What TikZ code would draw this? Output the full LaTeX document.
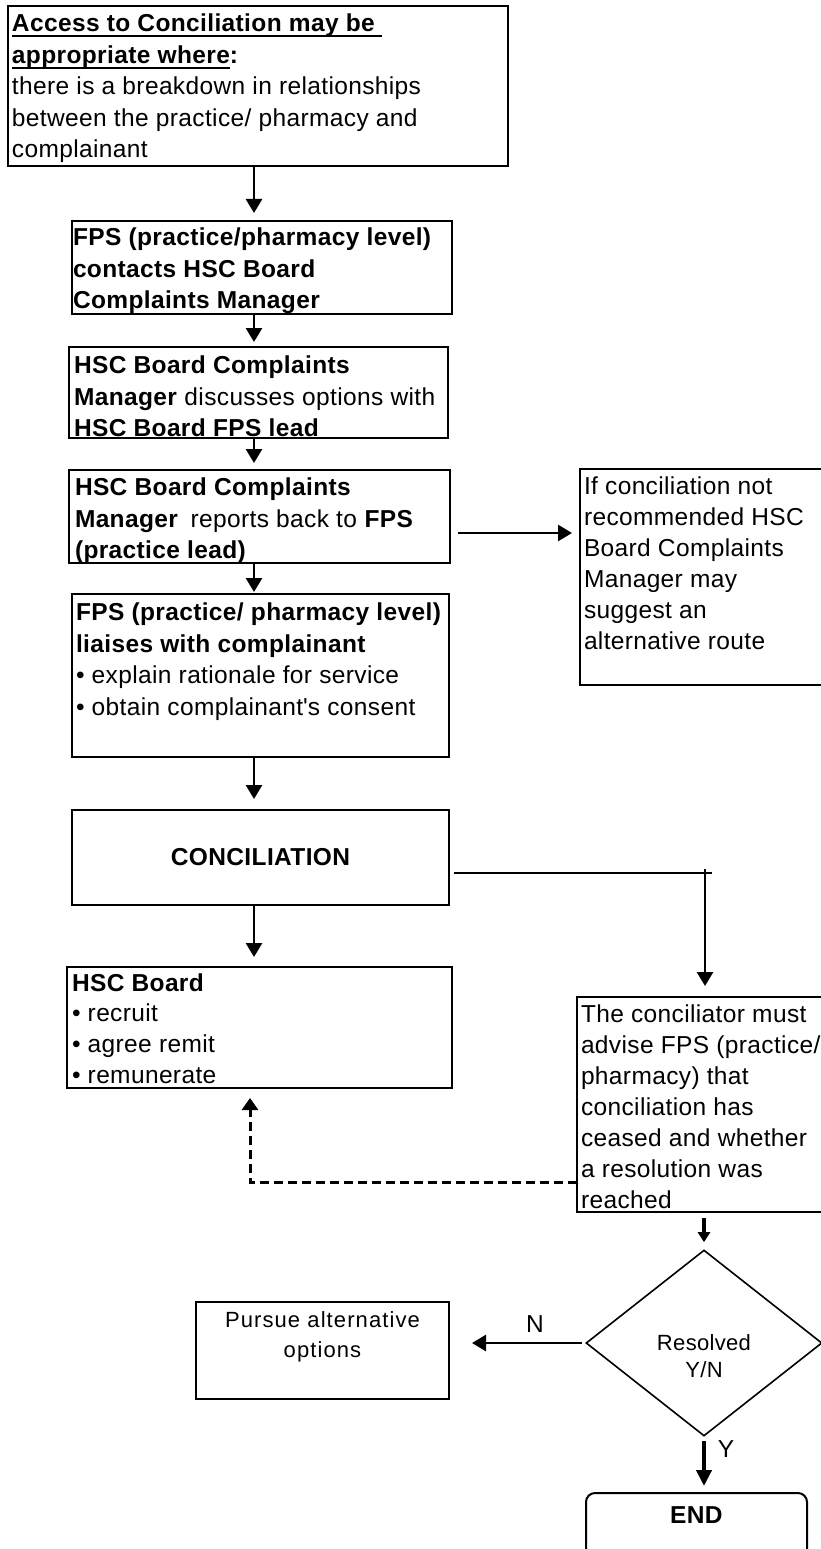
\documentclass[tikz,border=0pt]{standalone}
\usepackage{fontspec}
\setmainfont{Liberation Sans}[LetterSpace=1.5]
\usetikzlibrary{arrows.meta,shapes.geometric}
\newcommand{\mainfs}{\fontsize{24.5}{31.5}\selectfont}
\newcommand{\smallfs}{\fontsize{22}{30}\selectfont\addfontfeature{LetterSpace=5}}
\newcommand{\myul}[1]{\setbox0\hbox{#1}\rlap{\rule[-5.5pt]{\wd0}{2.2pt}}\box0}
\newcommand{\bx}[6][31.5]{\begin{minipage}[t][#3pt][t]{#2pt}\mainfs\baselineskip=#1pt\leftskip=#4pt\relax\noindent\rule{0pt}{#5pt}#6\end{minipage}}
\tikzset{
  box/.style={draw, line width=2pt, inner sep=0pt, outer sep=0pt, anchor=north west},
  arr/.style={line width=2.8pt, -{Triangle[length=14pt,width=16pt]}},
  arrsmall/.style={line width=3.5pt, -{Triangle[length=10pt,width=12pt]}},
  arrthick/.style={line width=4.5pt, -{Triangle[length=16pt,width=15pt]}},
  thinl/.style={line width=1.5pt},
  dasharr/.style={line width=3pt, dash pattern=on 9pt off 5pt, -{Triangle[length=12pt,width=16pt]}},
}
\begin{document}
\begin{tikzpicture}[x=1pt,y=-1pt]
\path[use as bounding box] (0,0) rectangle (821,1549);
\fill[white] (0,0) rectangle (821,1549);
\clip (0,0) rectangle (821,1549);

% main column boxes
\node[box] (b1) at (8,6) {\bx{500}{160}{4}{26}{%
\textbf{\myul{Access to Conciliation may be\ }}\\
\textbf{\myul{appropriate where}:}\\
there is a breakdown in relationships\\
between the practice/ pharmacy and\\
complainant}};

\node[box] (b2) at (72,221) {\bx{380}{93}{1}{24.5}{%
\textbf{FPS (practice/pharmacy level)}\\
\textbf{contacts HSC Board}\\
\textbf{Complaints Manager}}};

\node[box] (b3) at (69,347) {\bx{379}{91}{5}{26.5}{%
\textbf{HSC Board Complaints}\\
\textbf{Manager} discusses options with\\
\textbf{HSC Board FPS lead}}};

\node[box] (b4) at (69,470) {\bx{381}{93}{6}{25.5}{%
\textbf{HSC Board Complaints}\\
\textbf{Manager}\enspace reports back to \textbf{FPS}\\
\textbf{(practice lead)}}};

\node[box] (b5) at (72,594) {\bx{377}{163}{4}{26.5}{%
\textbf{FPS (practice/ pharmacy level)}\\
\textbf{liaises with complainant}\\
• explain rationale for service\\
• obtain complainant\textquotesingle s consent}};

\node[box] (rbox) at (580,469) {\bx[31]{250}{216}{4}{25}{%
If conciliation not\\
recommended HSC\\
Board Complaints\\
Manager may\\
suggest an\\
alternative route}};

\node[draw, line width=2pt, inner sep=0pt, minimum width=377pt, minimum height=95pt, font=\mainfs\bfseries] (concil) at (260.5,857.5) {CONCILIATION};

\node[box] (b8) at (67,967) {\bx[30.8]{385}{121}{5}{24}{%
\textbf{HSC Board}\\
• recruit\\
• agree remit\\
• remunerate}};

\node[box] (b7) at (577,997) {\bx[31]{250}{215}{4}{25}{%
The conciliator must\\
advise FPS (practice/\\
pharmacy) that\\
conciliation has\\
ceased and whether\\
a resolution was\\
reached}};

\node[draw, diamond, line width=1.6pt, inner sep=0pt, minimum width=236pt, minimum height=186pt] (dec) at (704,1343) {};
\node[inner sep=0pt, anchor=north] (dtext) at (704,1330) {\begin{minipage}[t]{140pt}\fontsize{22}{27}\selectfont\centering\rule{0pt}{20pt}Resolved\\Y/N\end{minipage}};

\node[box] (pur) at (196,1302) {\begin{minipage}[t][97pt][t]{253pt}\smallfs\centering\rule{0pt}{25pt}Pursue alternative\\options\end{minipage}};

\node[box, rounded corners=9pt] (endb) at (586,1493) {\begin{minipage}[t][80pt][t]{221pt}\mainfs\centering\rule{0pt}{30pt}\textbf{END}\end{minipage}};

\node[font=\mainfs, anchor=base, inner sep=0pt] (nlab) at (535,1332) {N};
\node[font=\mainfs, anchor=base, inner sep=0pt] (ylab) at (726,1457) {Y};

% connectors
\coordinate (col) at (254,0);
\draw[arr, shorten >=8pt] (b1.south -| col) -- (b2.north -| col);
\draw[arr, shorten >=5pt] (b2.south -| col) -- (b3.north -| col);
\draw[arr, shorten >=7pt] (b3.south -| col) -- (b4.north -| col);
\draw[arr, shorten >=2pt] (b4.south -| col) -- (b5.north -| col);
\draw[arr, shorten >=10pt] (b5.south -| col) -- (concil.north -| col);
\draw[arr, shorten >=10pt] (concil.south -| col) -- (b8.north -| col);

\draw[arr, shorten <=8pt, shorten >=8pt] ([yshift=-16.5pt]b4.east) -- ([yshift=-16.5pt]b4.east -| rbox.west);

\coordinate (j1) at (712,873);
\coordinate (j2) at (705,869);
\draw[thinl, shorten <=4pt] ([yshift=-15.5pt]concil.east) -- (j1);
\draw[arr, shorten >=11pt] (j2) -- (j2 |- b7.north);

\coordinate (d1) at (250,1182);
\draw[dasharr, shorten >=10pt] (b7.west |- d1) -- (d1) -- (d1 |- b8.south);

\draw[arrsmall, shorten <=6pt, shorten >=7pt] (b7.south -| dec.north) -- (dec.north);
\draw[arr, shorten <=3pt, shorten >=23pt] (dec.west) -- (dec.west -| pur.east);
\draw[arrthick, shorten <=4pt, shorten >=7pt] (dec.south) -- (dec.south |- endb.north);
\end{tikzpicture}
\end{document}
